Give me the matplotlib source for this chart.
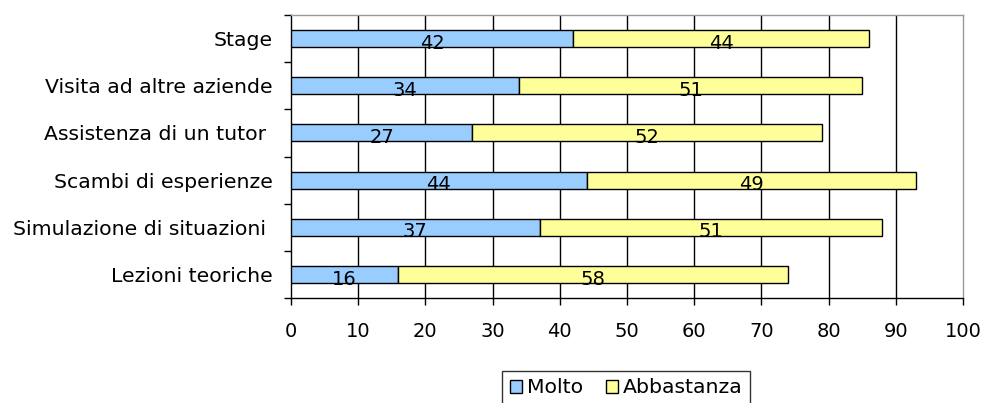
import matplotlib
matplotlib.use("Agg")
import matplotlib.pyplot as plt
import numpy as np
from matplotlib.patches import Patch

categories = ["Stage", "Visita ad altre aziende", "Assistenza di un tutor ",
              "Scambi di esperienze", "Simulazione di situazioni ", "Lezioni teoriche"]
molto = [42, 34, 27, 44, 37, 16]
abbastanza = [44, 51, 52, 49, 51, 58]
series_names = ["Molto", "Abbastanza"]
colors = ["#99CCFF", "#FFFF99"]

plt.rcParams['font.family'] = ['DejaVu Sans']
fig = plt.figure(figsize=(9.86, 4.03), dpi=100)
ax = fig.add_axes([0.295, 0.2605, 0.9767 - 0.295, 0.9628 - 0.2605])

n = len(categories)
y = np.arange(n)[::-1]
h = 0.36
ax.barh(y, molto, height=h, color=colors[0], edgecolor="black", linewidth=1, zorder=3)
ax.barh(y, abbastanza, left=molto, height=h, color=colors[1], edgecolor="black", linewidth=1, zorder=3)

fs_num = 14
fs_txt = 14.7
for yi, m, a in zip(y, molto, abbastanza):
    ax.text(m / 2, yi - 0.1, str(m), ha="center", va="center", fontsize=fs_num, zorder=4)
    ax.text(m + a / 2, yi - 0.1, str(a), ha="center", va="center", fontsize=fs_num, zorder=4)

ax.set_xlim(0, 100)
ax.set_ylim(-0.5, n - 0.5)
ax.set_xticks(np.arange(0, 101, 10))
ax.tick_params(axis="x", direction="out", length=5, width=1, labelsize=fs_num, pad=12, color="black")
ax.set_yticks(y)
ax.set_yticklabels(categories, fontsize=fs_txt)
ax.tick_params(axis="y", which="major", length=0, pad=13)
ax.set_yticks(np.arange(-0.5, n, 1.0), minor=True)
ax.tick_params(axis="y", which="minor", direction="out", length=5, width=1, color="black")

for xv in range(10, 100, 10):
    ax.axvline(xv, color="black", linewidth=1, zorder=1)

ax.spines["left"].set_color("black")
ax.spines["bottom"].set_color("black")
ax.spines["top"].set_color("#999999")
ax.spines["right"].set_color("#999999")
for s in ax.spines.values():
    s.set_linewidth(1)

handles = [Patch(facecolor=colors[0], edgecolor="black"), Patch(facecolor=colors[1], edgecolor="black")]
leg = fig.legend(handles, series_names, loc="upper center", bbox_to_anchor=(0.635, 0.079),
                 ncol=2, frameon=True, fancybox=False, fontsize=fs_txt, handlelength=0.6,
                 handleheight=0.6, handletextpad=0.25, columnspacing=1.1, borderpad=0.35,
                 borderaxespad=0)
leg.get_frame().set_edgecolor("black")
leg.get_frame().set_linewidth(1)

fig.savefig("out.png", dpi=100)
